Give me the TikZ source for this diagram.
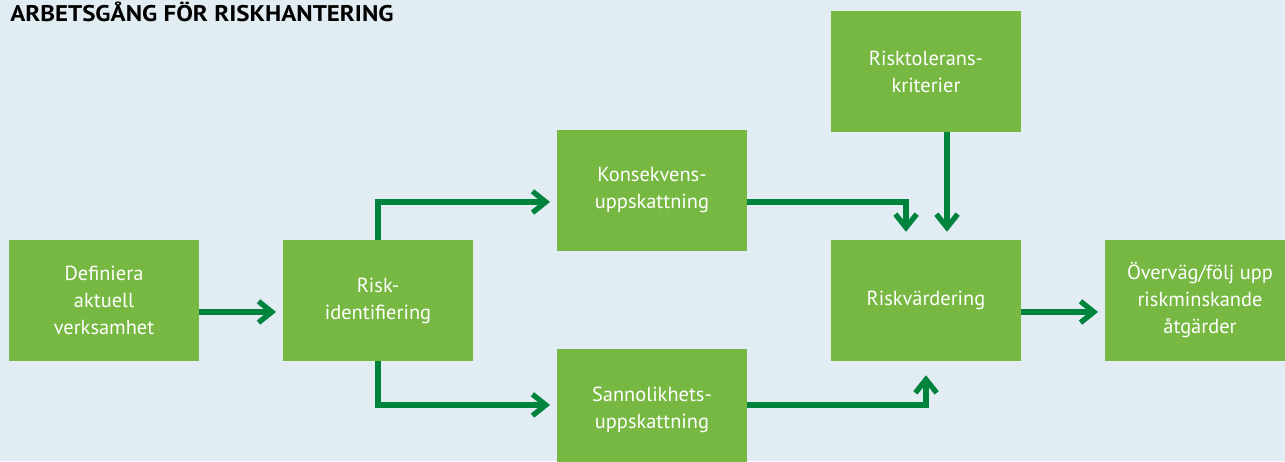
\documentclass[tikz,border=0pt]{standalone}
\usepackage{fontspec}
\setmainfont{PT Sans}
\newfontfamily\titlefont[FakeStretch=1.1]{PT Sans}
\usetikzlibrary{arrows.meta}
\definecolor{bg}{HTML}{E1ECF3}
\definecolor{boxgreen}{HTML}{77B843}
\definecolor{arrowgreen}{HTML}{00843D}
\tikzset{
  stepbox/.style={fill=boxgreen, draw=none, minimum width=142.5pt, minimum height=90.75pt,
    inner sep=0pt, align=center, text=white, font=\fontsize{15.3}{20.25}\selectfont},
  flow/.style={draw=arrowgreen, line width=4pt, line join=miter,
    -{Straight Barb[length=10pt, width=16pt, line width=4pt]}},
}
\begin{document}
\begin{tikzpicture}[x=0.75pt, y=-0.75pt]
\useasboundingbox (0,0) rectangle (1285,461);
\clip (0,0) rectangle (1285,461);
\fill[bg] (0,0) rectangle (1285,461);
\node[anchor=base west, inner sep=0pt, font=\titlefont\bfseries\fontsize{17}{20}\selectfont] (title) at (10,21) {ARBETSGÅNG FÖR RISKHANTERING};
\node[stepbox] (b1) at (104,300.5) {Definiera\\aktuell\\verksamhet};
\node[stepbox] (b2) at (378,300.5) {Risk-\\identifiering};
\node[stepbox] (b3) at (652,190.5) {Konsekvens-\\uppskattning};
\node[stepbox] (b4) at (652,409.5) {Sannolikhets-\\uppskattning};
\node[stepbox] (b5) at (926,71.5) {Risktolerans-\\kriterier};
\node[stepbox] (b6) at (926,300.5) {Riskvärdering};
\node[stepbox] (b7) at (1200,300.5) {Överväg/följ upp\\riskminskande\\åtgärder};
\draw[flow, shorten >=5pt] ([yshift=-8.6pt]b1.east) -- ([yshift=-8.6pt]b2.west);
\draw[flow, shorten >=5pt] (b2.north) |- ([yshift=-8.6pt]b3.west);
\draw[flow, shorten >=5pt] (b2.south) |- ([yshift=3.4pt]b4.west);
\draw[flow, shorten >=6pt] ([yshift=-8.6pt]b3.east) -| ([xshift=-15pt]b6.north);
\draw[flow, shorten >=6pt] ([xshift=15.75pt]b5.south) -- ([xshift=15.75pt]b6.north);
\draw[flow, shorten >=10.5pt] ([yshift=3.4pt]b4.east) -| (b6.south);
\draw[flow, shorten >=5pt] ([yshift=-8.6pt]b6.east) -- ([yshift=-8.6pt]b7.west);
\end{tikzpicture}
\end{document}
